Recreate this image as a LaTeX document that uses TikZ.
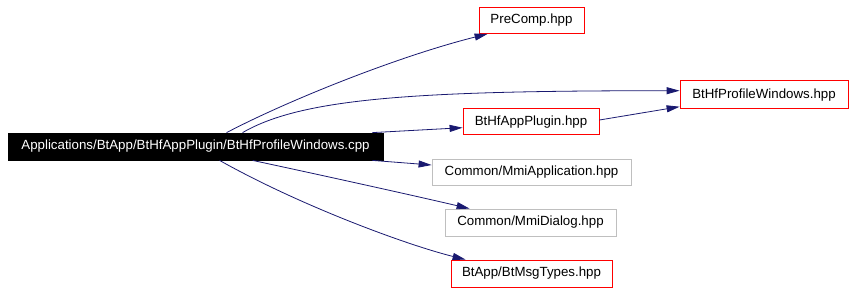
\documentclass[tikz,border=0pt]{standalone}
\usepackage{fontspec}
\setmainfont{Liberation Sans}
\usetikzlibrary{arrows.meta}
\definecolor{edgeblue}{RGB}{25,25,112}
\definecolor{sysgray}{RGB}{191,191,191}
\tikzset{
  filebox/.style={draw=red, line width=0.8pt, inner sep=0pt, align=center,
    font=\fontsize{13.3}{15}\selectfont},
  sysbox/.style={filebox, draw=sysgray},
  mainbox/.style={filebox, draw=black, fill=black, text=white},
  edge/.style={draw=edgeblue, line width=0.8pt,
    -{Triangle[length=13pt,width=7pt]}},
}
\begin{document}
\begin{tikzpicture}[x=1pt,y=-1pt]
\useasboundingbox (0,0) rectangle (853,293);

\node[mainbox, minimum width=375pt, minimum height=27pt] (main) at (195.5,146.5)
  {Applications/BtApp/BtHfAppPlugin/BtHfProfileWindows.cpp};
\node[filebox, minimum width=105pt, minimum height=26pt] (pre) at (531.5,20.5) {PreComp.hpp};
\node[filebox, minimum width=168pt, minimum height=28pt] (pw) at (764,94.7) {BtHfProfileWindows.hpp};
\node[filebox, minimum width=136pt, minimum height=26pt] (plug) at (531,121.7) {BtHfAppPlugin.hpp};
\node[sysbox, minimum width=199pt, minimum height=26pt] (app) at (531.5,172) {Common/MmiApplication.hpp};
\node[sysbox, minimum width=171pt, minimum height=27pt] (dlg) at (530.5,222.5) {Common/MmiDialog.hpp};
\node[filebox, minimum width=161pt, minimum height=27pt] (msg) at (531.5,273.5) {BtApp/BtMsgTypes.hpp};

% include edges
\draw[edge] ([xshift=219pt]main.north west) .. controls +(63,-33) and +(-88,22) .. ([xshift=9pt]pre.south west);
\draw[edge] ([xshift=235pt]main.north west) .. controls +(60,-35) and +(-260,0) .. ([yshift=4pt]pw.west);
\draw[edge] ([xshift=-11pt]main.north east) -- ([yshift=-6pt]plug.west);
\draw[edge] ([yshift=1.7pt]plug.east) -- ([yshift=-12pt]pw.west);
\draw[edge] ([xshift=-11pt]main.south east) -- ([yshift=7pt]app.west);
\draw[edge] ([xshift=245pt]main.south west) .. controls +(70,15) and +(-60,-14) .. ([xshift=25pt]dlg.north west);
\draw[edge] ([xshift=212pt]main.south west) .. controls +(80,45) and +(-60,-15) .. ([xshift=15pt]msg.north west);
\end{tikzpicture}
\end{document}
